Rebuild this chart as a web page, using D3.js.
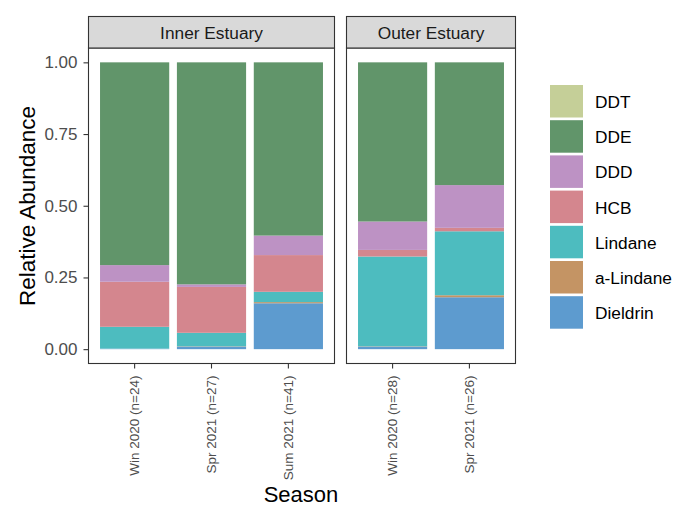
<!DOCTYPE html>
<html>
<head>
<meta charset="utf-8">
<script src="https://cdn.jsdelivr.net/npm/d3@7"></script>
<style>
  body { margin: 0; background: #fff; }
  text { font-family: "Liberation Sans", Arial, sans-serif; }
</style>
</head>
<body>
<svg width="675" height="508"></svg>
<script>
// compounds, stacked bottom -> top
var compounds = ['Dieldrin', 'a-Lindane', 'Lindane', 'HCB', 'DDD', 'DDE', 'DDT'];
var legendOrder = ['DDT', 'DDE', 'DDD', 'HCB', 'Lindane', 'a-Lindane', 'Dieldrin'];
var colours = ['#5d9bcf', '#c49464', '#4dbcbf', '#d4868e', '#bd92c4', '#61956a', '#c5cf98'];

var panels = ['Inner Estuary', 'Outer Estuary'];
var innerSeasons = ['Win 2020 (n=24)', 'Spr 2021 (n=27)', 'Sum 2021 (n=41)'];
var outerSeasons = ['Win 2020 (n=28)', 'Spr 2021 (n=26)'];

// relative abundance per season
var innerDieldrin = [0.002, 0.009, 0.160];
var innerALindane = [0.000, 0.001, 0.004];
var innerLindane  = [0.076, 0.047, 0.036];
var innerHCB      = [0.157, 0.160, 0.128];
var innerDDD      = [0.058, 0.009, 0.068];
var innerDDE      = [0.707, 0.774, 0.604];
var innerDDT      = [0.000, 0.000, 0.000];

var outerDieldrin = [0.009, 0.181];
var outerALindane = [0.001, 0.007];
var outerLindane  = [0.313, 0.223];
var outerHCB      = [0.023, 0.012];
var outerDDD      = [0.099, 0.149];
var outerDDE      = [0.555, 0.428];
var outerDDT      = [0.000, 0.000];

var yTicks = [0, 0.25, 0.5, 0.75, 1];

function rows(seasons, cols) {
  return seasons.map(function(s, i) {
    var r = { season: s };
    compounds.forEach(function(c, j) { r[c] = cols[j][i]; });
    return r;
  });
}
var innerRows = rows(innerSeasons, [innerDieldrin, innerALindane, innerLindane, innerHCB, innerDDD, innerDDE, innerDDT]);
var outerRows = rows(outerSeasons, [outerDieldrin, outerALindane, outerLindane, outerHCB, outerDDD, outerDDE, outerDDT]);

var colour = d3.scaleOrdinal().domain(compounds).range(colours);

var svg = d3.select('svg');

var plotTop = 48, plotBottom = 363.5;
var y = d3.scaleLinear().domain([-0.05, 1.05]).range([plotBottom, plotTop]);

var stack = d3.stack().keys(compounds).offset(d3.stackOffsetExpand);

var panelDefs = [
  { name: panels[0], rows: innerRows, seasons: innerSeasons, x0: 88.5, x1: 334.5 },
  { name: panels[1], rows: outerRows, seasons: outerSeasons, x0: 346.5, x1: 515.5 }
];

panelDefs.forEach(function(p) {
  var x = d3.scaleBand().domain(p.seasons).range([p.x0, p.x1])
            .paddingInner(0.1).paddingOuter(0.15);
  var g = svg.append('g');

  var series = stack(p.rows);
  g.selectAll('g.layer')
    .data(series)
    .join('g')
      .attr('class', 'layer')
      .attr('fill', function(d) { return colour(d.key); })
    .selectAll('rect')
    .data(function(d) { return d; })
    .join('rect')
      .attr('x', function(d) { return x(d.data.season); })
      .attr('width', x.bandwidth())
      .attr('y', function(d) { return y(d[1]); })
      .attr('height', function(d) { return Math.max(0, y(d[0]) - y(d[1])); });

  // panel border
  g.append('rect')
    .attr('x', p.x0).attr('y', plotTop)
    .attr('width', p.x1 - p.x0).attr('height', plotBottom - plotTop)
    .attr('fill', 'none').attr('stroke', '#333').attr('stroke-width', 1.1);

  // strip
  g.append('rect')
    .attr('x', p.x0).attr('y', 16.5)
    .attr('width', p.x1 - p.x0).attr('height', plotTop - 16.5)
    .attr('fill', '#d9d9d9').attr('stroke', '#333').attr('stroke-width', 1.1);
  g.append('text')
    .attr('x', (p.x0 + p.x1) / 2).attr('y', 32.5)
    .attr('text-anchor', 'middle').attr('dominant-baseline', 'central')
    .attr('font-size', 17.3).attr('fill', '#1a1a1a')
    .text(p.name);

  // x axis
  var xAxis = g.append('g')
    .attr('transform', 'translate(0,' + plotBottom + ')')
    .call(d3.axisBottom(x).tickSize(5).tickSizeOuter(0));
  xAxis.select('.domain').remove();
  xAxis.selectAll('line').attr('stroke', '#333').attr('stroke-width', 1.1);
  xAxis.selectAll('text')
    .attr('transform', 'rotate(-90)')
    .attr('x', -12).attr('y', 0).attr('dy', '0.35em')
    .attr('text-anchor', 'end')
    .attr('font-size', 13.5).attr('fill', '#4d4d4d')
    .attr('font-family', '"Liberation Sans", Arial, sans-serif');
});

// y axis
var yAxis = svg.append('g')
  .attr('transform', 'translate(88.5,0)')
  .call(d3.axisLeft(y).tickValues(yTicks).tickFormat(d3.format('.2f')).tickSize(5).tickPadding(6));
yAxis.select('.domain').remove();
yAxis.selectAll('line').attr('stroke', '#333').attr('stroke-width', 1.1);
yAxis.selectAll('text')
  .attr('font-size', 17).attr('fill', '#4d4d4d')
  .attr('font-family', '"Liberation Sans", Arial, sans-serif');

// axis titles
svg.append('text')
  .attr('transform', 'translate(35,206) rotate(-90)')
  .attr('text-anchor', 'middle')
  .attr('font-size', 22.5).attr('fill', '#000')
  .text('Relative Abundance');
svg.append('text')
  .attr('x', 301).attr('y', 502)
  .attr('text-anchor', 'middle')
  .attr('font-size', 22).attr('fill', '#000')
  .text('Season');

// legend
var legend = svg.append('g').attr('transform', 'translate(550,85)');
var item = legend.selectAll('g')
  .data(legendOrder)
  .join('g')
    .attr('transform', function(d, i) { return 'translate(0,' + i * 35.2 + ')'; });
item.append('rect')
  .attr('width', 33).attr('height', 32.5)
  .attr('fill', function(d) { return colour(d); });
item.append('text')
  .attr('x', 45).attr('y', 17)
  .attr('dominant-baseline', 'central')
  .attr('font-size', 17.3).attr('fill', '#000')
  .text(function(d) { return d; });
</script>
</body>
</html>
